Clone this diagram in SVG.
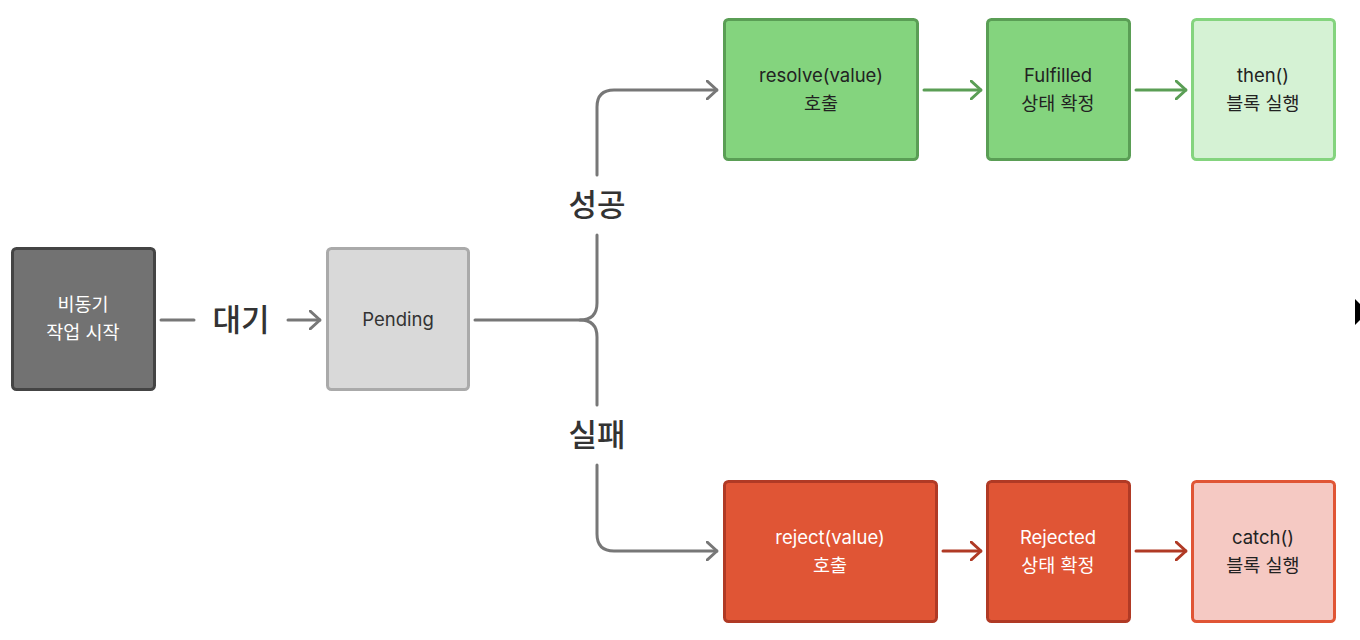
<svg xmlns="http://www.w3.org/2000/svg" width="1360" height="640" viewBox="0 0 1360 640">
<defs>
<style>
.t{font-family:"Inter","Noto Sans CJK KR",sans-serif;font-size:18.5px;text-anchor:middle}
.lbl{font-family:"Noto Sans CJK KR",sans-serif;font-size:31px;text-anchor:middle;fill:#333;font-weight:500}
.gray{fill:none;stroke:#777;stroke-width:3;stroke-linecap:round}
.green{fill:none;stroke:#5a9e55;stroke-width:3;stroke-linecap:round}
.red{fill:none;stroke:#b03a25;stroke-width:3;stroke-linecap:round}
</style>
<marker id="ag" viewBox="0 0 12 20" markerWidth="12" markerHeight="20" refX="11" refY="10" orient="auto" markerUnits="userSpaceOnUse"><path d="M1,1 L11,10 L1,19" fill="none" stroke="#777" stroke-width="3" stroke-linecap="round" stroke-linejoin="round"/></marker>
<marker id="agr" viewBox="0 0 12 20" markerWidth="12" markerHeight="20" refX="11" refY="10" orient="auto" markerUnits="userSpaceOnUse"><path d="M1,1 L11,10 L1,19" fill="none" stroke="#5a9e55" stroke-width="3" stroke-linecap="round" stroke-linejoin="round"/></marker>
<marker id="ard" viewBox="0 0 12 20" markerWidth="12" markerHeight="20" refX="11" refY="10" orient="auto" markerUnits="userSpaceOnUse"><path d="M1,1 L11,10 L1,19" fill="none" stroke="#b03a25" stroke-width="3" stroke-linecap="round" stroke-linejoin="round"/></marker>
</defs>
<rect width="1360" height="640" fill="#fff"/>
<g id="connectors">
<path class="gray" d="M161,320 H194"/>
<path class="gray" d="M288,320 H320" marker-end="url(#ag)"/>
<path class="gray" d="M475,320 H580 Q597,320 597,303 V235"/>
<path class="gray" d="M597,175 V107 Q597,90 614,90 H717" marker-end="url(#ag)"/>
<path class="gray" d="M580,320 Q597,320 597,337 V405"/>
<path class="gray" d="M597,465 V534 Q597,551 614,551 H717" marker-end="url(#ag)"/>
<path class="green" d="M924,90 H981" marker-end="url(#agr)"/>
<path class="green" d="M1136,90 H1186" marker-end="url(#agr)"/>
<path class="red" d="M943,551 H981" marker-end="url(#ard)"/>
<path class="red" d="M1136,551 H1186" marker-end="url(#ard)"/>
<text class="lbl" x="241" y="331">대기</text>
<text class="lbl" x="597" y="216">성공</text>
<text class="lbl" x="597" y="446">실패</text>
</g>
<g id="start">
<rect x="12.5" y="248.5" width="142" height="141" rx="4" fill="#727272" stroke="#444" stroke-width="3"/>
<text class="t" x="83" y="311" fill="#fff">비동기</text>
<text class="t" x="83" y="339" fill="#fff">작업 시작</text>
</g>
<g id="pending">
<rect x="327.5" y="248.5" width="141" height="141" rx="4" fill="#d9d9d9" stroke="#aaa" stroke-width="3"/>
<text class="t" x="398" y="326" fill="#333">Pending</text>
</g>
<g id="resolve">
<rect x="724.5" y="19.5" width="193" height="140" rx="4" fill="#84d47e" stroke="#5a9e55" stroke-width="3"/>
<text class="t" x="821" y="82" fill="#222">resolve(value)</text>
<text class="t" x="821" y="110" fill="#222">호출</text>
</g>
<g id="fulfilled">
<rect x="987.5" y="19.5" width="142" height="140" rx="4" fill="#84d47e" stroke="#5a9e55" stroke-width="3"/>
<text class="t" x="1058" y="82" fill="#222">Fulfilled</text>
<text class="t" x="1058" y="110" fill="#222">상태 확정</text>
</g>
<g id="then">
<rect x="1192.5" y="19.5" width="142" height="140" rx="4" fill="#d5f2d4" stroke="#84d47e" stroke-width="3"/>
<text class="t" x="1263" y="82" fill="#222">then()</text>
<text class="t" x="1263" y="110" fill="#222">블록 실행</text>
</g>
<g id="reject">
<rect x="724.5" y="481.5" width="212" height="140" rx="4" fill="#e05535" stroke="#b03a25" stroke-width="3"/>
<text class="t" x="830" y="544" fill="#fff">reject(value)</text>
<text class="t" x="830" y="572" fill="#fff">호출</text>
</g>
<g id="rejected">
<rect x="987.5" y="481.5" width="142" height="140" rx="4" fill="#e05535" stroke="#b03a25" stroke-width="3"/>
<text class="t" x="1058" y="544" fill="#fff">Rejected</text>
<text class="t" x="1058" y="572" fill="#fff">상태 확정</text>
</g>
<g id="catch">
<rect x="1192.5" y="481.5" width="142" height="140" rx="4" fill="#f5c9c3" stroke="#e05535" stroke-width="3"/>
<text class="t" x="1263" y="544" fill="#222">catch()</text>
<text class="t" x="1263" y="572" fill="#222">블록 실행</text>
</g>
<polygon points="1355,299 1360,304 1360,320 1355,325" fill="#000"/>
</svg>
